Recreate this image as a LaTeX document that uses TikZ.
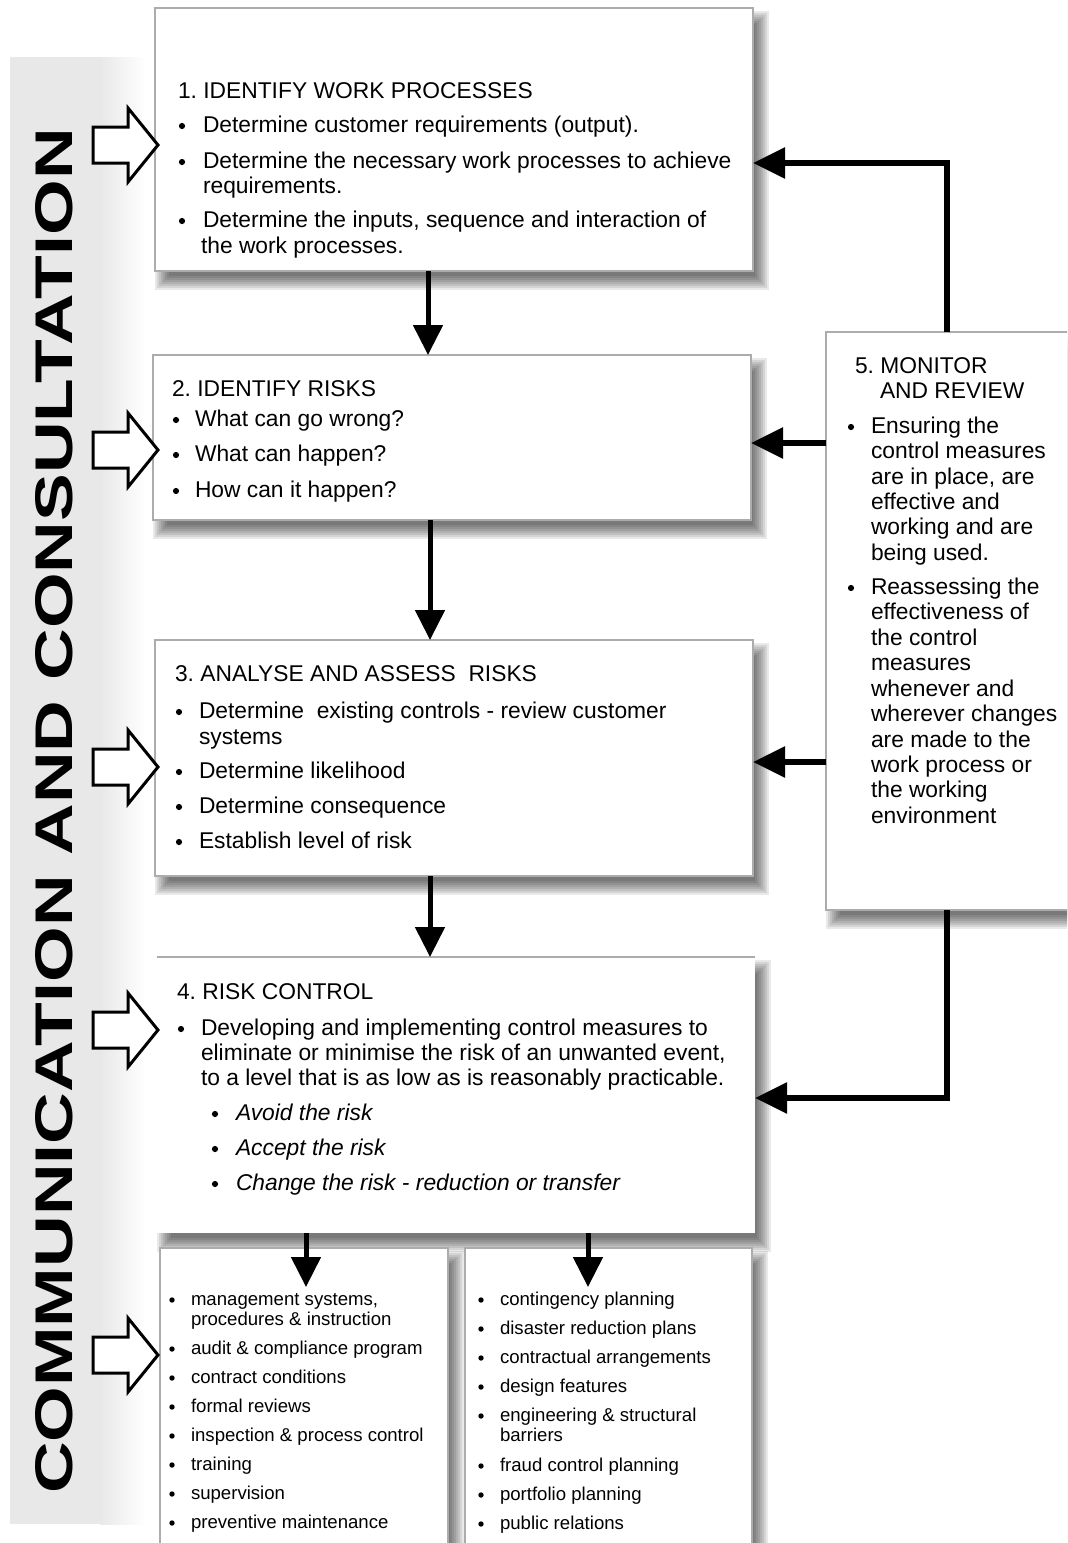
\documentclass[tikz,border=0pt]{standalone}
\usepackage{fontspec}
\setmainfont{Liberation Sans}
\frenchspacing
\usetikzlibrary{arrows.meta}
\newcommand\shad[4]{\foreach \k in {0,...,7}{\fill[black,opacity=0.085] ({#1+2*\k},{#2+3+2*\k}) rectangle ({#3+16-2*\k},{#4+19-2*\k});}}
\newcommand\bdot[2]{\fill (#1,#2) circle[radius=3.1];}
\newcommand\sdot[2]{\fill (#1,#2) circle[radius=2.7];}
\begin{document}
\begin{tikzpicture}[x=0.5pt,y=-0.5pt,
  txt/.style={inner sep=0pt, outer sep=0pt, anchor=base west, font=\fontsize{11.4}{13}\selectfont},
  sm/.style={inner sep=0pt, outer sep=0pt, anchor=base west, font=\fontsize{9.3}{11}\selectfont},
  box/.style={draw=gray!65, line width=0.6pt, fill=white, anchor=north west, inner sep=0pt, outer sep=0pt},
  arr/.style={line width=2.5pt, -{Triangle[length=15pt,width=14.5pt]}},
  fb/.style={line width=2.8pt, -{Triangle[length=16pt,width=15pt]}},
  hollow/.style={draw=black, line width=1.5pt, fill=white, line join=miter},
]
\useasboundingbox (0,0) rectangle (1067,1543);
\clip (0,0) rectangle (1067,1543);
\fill[white] (0,0) rectangle (1067,1543);
% side band
\fill[gray!18] (10,57) rectangle (100,1524);
\shade[left color=gray!18, right color=white] (100,57) rectangle (145,1524);
\node[rotate=90, inner sep=0pt, font=\bfseries\fontsize{26.5}{30}\selectfont] (cc) at (54,811) {\scalebox{1.35}[1]{COMMUNICATION AND CONSULTATION}};
% shadows
\shad{155}{8}{753}{271}
\shad{153}{355}{751}{520}
\shad{155}{640}{753}{876}
\shad{157}{957}{755}{1233}
\shad{826}{332}{1080}{910}
\shad{160}{1248}{448}{1570}
\shad{465}{1248}{752}{1570}
% boxes
\node[box, minimum width=299pt, minimum height=131.5pt] (b1) at (155,8) {};
\node[box, minimum width=299pt, minimum height=82.5pt] (b2) at (153,355) {};
\node[box, minimum width=299pt, minimum height=118pt] (b3) at (155,640) {};
\node[box, draw=none, minimum width=299pt, minimum height=138pt] (b4) at (157,957) {};
\draw[gray!65, line width=0.6pt] (b4.north west) -- (b4.north east);
\node[box, minimum width=127pt, minimum height=289pt] (b5) at (826,332) {};
\node[box, minimum width=144pt, minimum height=165pt] (bl) at (160,1248) {};
\node[box, minimum width=143.5pt, minimum height=165pt] (br) at (465,1248) {};
% box 1
\node[txt] (t1) at (178,98) {1. IDENTIFY WORK PROCESSES};
\bdot{182}{126}\node[txt] (t1a) at (203,132) {Determine customer requirements (output).};
\bdot{182}{162}\node[txt] (t1b) at (203,168) {Determine the necessary work processes to achieve};
\node[txt] (t1c) at (203,193) {requirements.};
\bdot{182}{221}\node[txt] (t1d) at (203,227) {Determine the inputs, sequence and interaction of};
\node[txt] (t1e) at (201,253) {the work processes.};
% box 2
\node[txt] (t2) at (172,396) {2. IDENTIFY RISKS};
\bdot{176}{420}\node[txt] (t2a) at (195,426) {What can go wrong?};
\bdot{176}{455}\node[txt] (t2b) at (195,461) {What can happen?};
\bdot{176}{491}\node[txt] (t2c) at (195,497) {How can it happen?};
% box 3
\node[txt] (t3) at (175,681) {3. ANALYSE AND ASSESS\ \ RISKS};
\bdot{179}{712}\node[txt] (t3a) at (199,718) {Determine\ \ existing controls - review customer};
\node[txt] (t3b) at (199,744) {systems};
\bdot{179}{772}\node[txt] (t3c) at (199,778) {Determine likelihood};
\bdot{179}{807}\node[txt] (t3d) at (199,813) {Determine consequence};
\bdot{179}{842}\node[txt] (t3e) at (199,848) {Establish level of risk};
% box 4
\node[txt] (t4) at (177,999) {4. RISK CONTROL};
\bdot{181}{1029}\node[txt] (t4a) at (201,1035) {Developing and implementing control measures to};
\node[txt] (t4b) at (201,1060) {eliminate or minimise the risk of an unwanted event,};
\node[txt] (t4c) at (201,1085) {to a level that is as low as is reasonably practicable.};
\bdot{215}{1114}\node[txt, font=\fontsize{11.4}{13}\selectfont\itshape] (t4d) at (236,1120) {Avoid the risk};
\bdot{215}{1149}\node[txt, font=\fontsize{11.4}{13}\selectfont\itshape] (t4e) at (236,1155) {Accept the risk};
\bdot{215}{1184}\node[txt, font=\fontsize{11.4}{13}\selectfont\itshape] (t4f) at (236,1190) {Change the risk - reduction or transfer};
% box 5
\node[txt] (t5) at (855,373) {5. MONITOR};
\node[txt] (t5b) at (880,398) {AND REVIEW};
\bdot{851}{427}
\node[txt] (m1) at (871,433) {Ensuring the};
\node[txt] (m2) at (871,458) {control measures};
\node[txt] (m3) at (871,484) {are in place, are};
\node[txt] (m4) at (871,509) {effective and};
\node[txt] (m5) at (871,534) {working and are};
\node[txt] (m6) at (871,560) {being used.};
\bdot{851}{588}
\node[txt] (m7) at (871,594) {Reassessing the};
\node[txt] (m8) at (871,619) {effectiveness of};
\node[txt] (m9) at (871,645) {the control};
\node[txt] (m10) at (871,670) {measures};
\node[txt] (m11) at (871,696) {whenever and};
\node[txt] (m12) at (871,721) {wherever changes};
\node[txt] (m13) at (871,747) {are made to the};
\node[txt] (m14) at (871,772) {work process or};
\node[txt] (m15) at (871,797) {the working};
\node[txt] (m16) at (871,823) {environment};
% bottom left
\sdot{172}{1300}\node[sm] (l1) at (191,1305) {management systems,};
\node[sm] (l1b) at (191,1325) {procedures \& instruction};
\sdot{172}{1349}\node[sm] (l2) at (191,1354) {audit \& compliance program};
\sdot{172}{1378}\node[sm] (l3) at (191,1383) {contract conditions};
\sdot{172}{1407}\node[sm] (l4) at (191,1412) {formal reviews};
\sdot{172}{1436}\node[sm] (l5) at (191,1441) {inspection \& process control};
\sdot{172}{1465}\node[sm] (l6) at (191,1470) {training};
\sdot{172}{1494}\node[sm] (l7) at (191,1499) {supervision};
\sdot{172}{1523}\node[sm] (l8) at (191,1528) {preventive maintenance};
% bottom right
\sdot{481}{1300}\node[sm] (r1) at (500,1305) {contingency planning};
\sdot{481}{1329}\node[sm] (r2) at (500,1334) {disaster reduction plans};
\sdot{481}{1358}\node[sm] (r3) at (500,1363) {contractual arrangements};
\sdot{481}{1387}\node[sm] (r4) at (500,1392) {design features};
\sdot{481}{1416}\node[sm] (r5) at (500,1421) {engineering \& structural};
\node[sm] (r5b) at (500,1441) {barriers};
\sdot{481}{1466}\node[sm] (r6) at (500,1471) {fraud control planning};
\sdot{481}{1495}\node[sm] (r7) at (500,1500) {portfolio planning};
\sdot{481}{1524}\node[sm] (r8) at (500,1529) {public relations};
% hollow arrows
\foreach \cy in {145,450,767,1030,1355}{
  \draw[hollow] (93,{\cy-18}) -- (128,{\cy-18}) -- (128,{\cy-37}) -- (158,\cy) -- (128,{\cy+37}) -- (128,{\cy+18}) -- (93,{\cy+18}) -- cycle;
}
% connectors
\coordinate (c12) at (428,0);
\coordinate (c23) at (430,0);
\coordinate (c34) at (430,0);
\coordinate (d1) at (306,1287);
\coordinate (d2) at (588,1287);
\coordinate (f1) at (947,163);
\coordinate (f2) at (0,443);
\coordinate (f3) at (0,762);
\coordinate (f4) at (947,1098);
\draw[arr] (b1.south -| c12) -- (b2.north -| c12);
\draw[arr] (b2.south -| c23) -- (b3.north -| c23);
\draw[arr] (b3.south -| c34) -- (b4.north -| c34);
\draw[arr] (b4.south -| d1) -- (d1);
\draw[arr] (b4.south -| d2) -- (d2);
\draw[fb] (b5.north -| f1) |- (b1.east |- f1);
\draw[fb] (b5.west |- f2) -- (b2.east |- f2);
\draw[fb] (b5.west |- f3) -- (b3.east |- f3);
\draw[fb] (b5.south -| f4) |- (b4.east |- f4);
\end{tikzpicture}
\end{document}
